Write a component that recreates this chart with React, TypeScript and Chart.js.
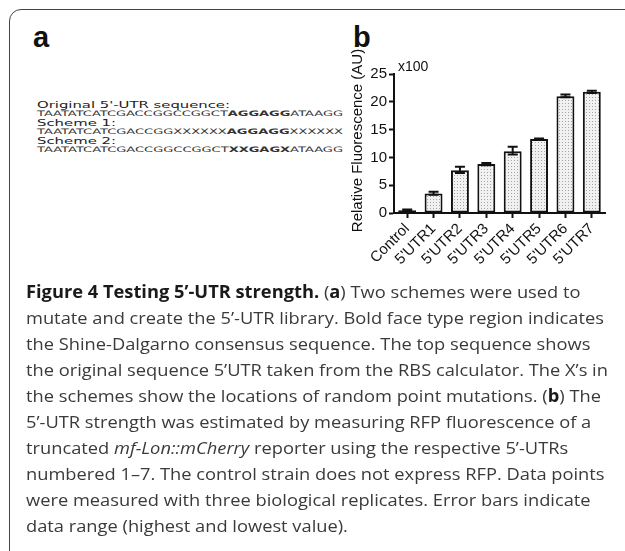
import React, { useEffect, useLayoutEffect, useRef } from "react";
import { Chart, registerables } from "chart.js";

Chart.register(...registerables);

const categories = ["Control", "5'UTR1", "5'UTR2", "5'UTR3", "5'UTR4", "5'UTR5", "5'UTR6", "5'UTR7"];
const fluorescence = [0.5, 3.5, 7.7, 8.8, 11.1, 13.3, 21.0, 21.8];
const rangeLow = [0.35, 3.3, 7.2, 8.6, 10.5, 13.2, 20.8, 21.6];
const rangeHigh = [0.65, 3.8, 8.3, 9.0, 11.9, 13.4, 21.3, 22.0];
const yMin = 0;
const yMax = 25;
const yStep = 5;
const yTitle = "Relative Fluorescence (AU)";
const yMultiplier = "x100";

const ARIAL = "'Liberation Sans', Arial, sans-serif";
const INK = "#111";

function FitText(props: {
  left: number; top: number; width: number; height: number; fontSize: number;
  family: string; color: string; weight?: number | string; children: React.ReactNode;
}) {
  const ref = useRef<HTMLSpanElement>(null);
  useLayoutEffect(() => {
    const fit = () => {
      const el = ref.current;
      if (!el) return;
      el.style.transform = "none";
      const w = el.getBoundingClientRect().width;
      if (w > 0) el.style.transform = `scaleX(${props.width / w})`;
    };
    fit();
    (document as any).fonts?.ready?.then(fit);
  }, [props.width]);
  return (
    <div style={{
      position: "absolute", left: props.left, top: props.top, height: props.height,
      lineHeight: props.height + "px", whiteSpace: "nowrap", fontSize: props.fontSize,
      fontFamily: props.family, color: props.color, fontWeight: props.weight ?? 400,
    }}>
      <span ref={ref} style={{ display: "inline-block", transformOrigin: "0 50%" }}>{props.children}</span>
    </div>
  );
}

const errorBarPlugin = {
  id: "errorBars",
  afterDatasetsDraw(chart: any) {
    const { ctx, scales } = chart;
    const xs = scales.x, ys = scales.y;
    ctx.save();
    ctx.strokeStyle = INK;
    ctx.lineWidth = 2;
    for (let i = 0; i < categories.length; i++) {
      const x = xs.getPixelForValue(i);
      const yh = ys.getPixelForValue(rangeHigh[i]);
      const yl = ys.getPixelForValue(rangeLow[i]);
      ctx.beginPath();
      ctx.moveTo(x, yh); ctx.lineTo(x, yl);
      ctx.moveTo(x - 5, yh); ctx.lineTo(x + 5, yh);
      ctx.moveTo(x - 5, yl); ctx.lineTo(x + 5, yl);
      ctx.stroke();
    }
    ctx.restore();
  },
};

const labelPlugin = {
  id: "axisTexts",
  afterDraw(chart: any) {
    const { ctx, chartArea } = chart;
    ctx.save();
    ctx.fillStyle = INK;
    ctx.font = `14px ${ARIAL}`;
    ctx.textAlign = "left";
    ctx.textBaseline = "alphabetic";
    ctx.fillText(yMultiplier, chartArea.left + 4, chartArea.top - 3);
    ctx.translate(chartArea.left - 36, (chartArea.top + chartArea.bottom) / 2 - 3);
    ctx.rotate(-Math.PI / 2);
    ctx.font = `15px ${ARIAL}`;
    ctx.textAlign = "center";
    ctx.textBaseline = "middle";
    ctx.fillText(yTitle, 0, 0);
    ctx.restore();
  },
};

function BarChart() {
  const canvasRef = useRef<HTMLCanvasElement>(null);
  useEffect(() => {
    const canvas = canvasRef.current!;
    const ctx = canvas.getContext("2d")!;
    const tile = document.createElement("canvas");
    tile.width = 3; tile.height = 3;
    const t = tile.getContext("2d")!;
    t.fillStyle = "#f1f1f1"; t.fillRect(0, 0, 3, 3);
    t.fillStyle = "#a5a5a5"; t.fillRect(1, 1, 1, 1);
    const pattern = ctx.createPattern(tile, "repeat");

    const tickFont = { family: ARIAL, size: 15 };
    const chart = new Chart(canvas, {
      type: "bar",
      data: {
        labels: categories,
        datasets: [{
          data: fluorescence,
          backgroundColor: pattern as any,
          borderColor: INK,
          borderWidth: 2,
          borderSkipped: false,
          barPercentage: 0.68,
          categoryPercentage: 1,
        }],
      },
      options: {
        responsive: false,
        maintainAspectRatio: false,
        animation: false,
        devicePixelRatio: 1,
        layout: { padding: { left: 0, right: 10, top: 44, bottom: 0 } },
        plugins: { legend: { display: false }, tooltip: { enabled: false }, title: { display: false } },
        scales: {
          x: {
            type: "category",
            offset: true,
            grid: { display: true, drawOnChartArea: false, drawTicks: true, tickLength: 5, offset: false, tickWidth: 2, tickColor: INK, color: INK },
            border: { display: true, color: INK, width: 2 },
            ticks: { color: INK, font: tickFont, maxRotation: 45, minRotation: 45, padding: 2, autoSkip: false },
            afterFit: (s: any) => { s.height = 77; },
          },
          y: {
            min: yMin, max: yMax,
            ticks: { stepSize: yStep, color: INK, font: tickFont, padding: 2 },
            grid: { display: true, drawOnChartArea: false, drawTicks: true, tickLength: 5, tickWidth: 2, tickColor: INK, color: INK },
            border: { display: true, color: INK, width: 2 },
            afterFit: (s: any) => { s.width = 64; },
          },
        },
      } as any,
      plugins: [errorBarPlugin, labelPlugin],
    });
    return () => chart.destroy();
  }, []);
  return (
    <canvas ref={canvasRef} width={285} height={260}
      style={{ position: "absolute", left: 330, top: 30, width: 285, height: 260 }} />
  );
}

const SEQ = "'DejaVu Sans', sans-serif";
const CAP = "'Open Sans', sans-serif";
const capColor = "#3a3a3a";
const B = (p: { children: React.ReactNode }) => <b style={{ color: "#1a1a1a" }}>{p.children}</b>;

function Caption() {
  const refs = useRef<(HTMLSpanElement | null)[]>([]);
  const lines: React.ReactNode[] = [
    <><B>Figure 4 Testing 5’-UTR strength.</B> (<B>a</B>) Two schemes were used to</>,
    <>mutate and create the 5’-UTR library. Bold face type region indicates</>,
    <>the Shine-Dalgarno consensus sequence. The top sequence shows</>,
    <>the original sequence 5’UTR taken from the RBS calculator. The X’s in</>,
    <>the schemes show the locations of random point mutations. (<B>b</B>) The</>,
    <>5’-UTR strength was estimated by measuring RFP fluorescence of a</>,
    <>truncated <i>mf-Lon::mCherry</i> reporter using the respective 5’-UTRs</>,
    <>numbered 1–7. The control strain does not express RFP. Data points</>,
    <>were measured with three biological replicates. Error bars indicate</>,
    <>data range (highest and lowest value).</>,
  ];
  useLayoutEffect(() => {
    const fit = () => {
      const els = refs.current.filter(Boolean) as HTMLSpanElement[];
      els.forEach((e) => (e.style.transform = "none"));
      const ref = refs.current[1];
      if (!ref) return;
      const w = ref.getBoundingClientRect().width;
      if (w <= 0) return;
      const s = 578 / w;
      els.forEach((e) => (e.style.transform = `scaleX(${s})`));
    };
    fit();
    (document as any).fonts?.ready?.then(fit);
  }, []);
  return (
    <>
      {lines.map((l, i) => (
        <div key={i} style={{
          position: "absolute", left: 26, top: 279 + i * 26, height: 26, lineHeight: "26px",
          whiteSpace: "nowrap", fontSize: 17, fontFamily: CAP, color: capColor,
        }}>
          <span ref={(el) => { refs.current[i] = el; }} style={{ display: "inline-block", transformOrigin: "0 50%" }}>{l}</span>
        </div>
      ))}
    </>
  );
}

export default function App() {
  return (
    <div style={{ position: "fixed", left: 0, top: 0, width: 625, height: 551, overflow: "hidden", background: "#fff" }}>
      <div style={{ position: "absolute", left: 9, top: 9, width: 700, height: 600, border: "1.5px solid #444", borderRadius: 12, boxSizing: "border-box" }} />
      <div style={{ position: "absolute", left: 33, top: 22, fontFamily: ARIAL, fontWeight: 700, fontSize: 29, lineHeight: "30px", color: INK }}>a</div>
      <div style={{ position: "absolute", left: 353, top: 22, fontFamily: ARIAL, fontWeight: 700, fontSize: 29, lineHeight: "30px", color: INK }}>b</div>

      <FitText left={37} top={100} width={193} height={10} fontSize={9} family={SEQ} color="#222">Original 5'-UTR sequence:</FitText>
      <FitText left={37} top={109} width={306} height={10} fontSize={7.5} family={SEQ} color="#333">TAATATCATCGACCGGCCGGCT<b>AGGAGG</b>ATAAGG</FitText>
      <FitText left={37} top={118} width={79} height={10} fontSize={9} family={SEQ} color="#222">Scheme 1:</FitText>
      <FitText left={37} top={127} width={306} height={10} fontSize={7.5} family={SEQ} color="#333">TAATATCATCGACCGGXXXXXX<b>AGGAGG</b>XXXXXX</FitText>
      <FitText left={37} top={136} width={79} height={10} fontSize={9} family={SEQ} color="#222">Scheme 2:</FitText>
      <FitText left={37} top={145} width={306} height={10} fontSize={7.5} family={SEQ} color="#333">TAATATCATCGACCGGCCGGCT<b>XXGAGX</b>ATAAGG</FitText>

      <BarChart />
      <Caption />
    </div>
  );
}
